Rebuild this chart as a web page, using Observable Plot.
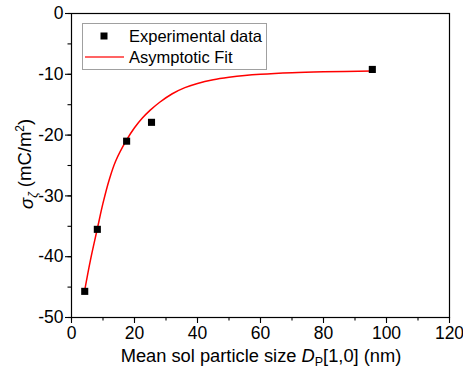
<!DOCTYPE html>
<html><head><meta charset="utf-8">
<script src="https://cdn.jsdelivr.net/npm/d3@7"></script>
<script src="https://cdn.jsdelivr.net/npm/@observablehq/plot@0.6"></script>
<style>
body{margin:0;background:#fff}
#chart{width:463px;height:377px}
</style>
</head><body><div id="chart"></div>
<script>
// Experimental data
const expSize  = [4.2, 8.2, 17.5, 25.4, 95.5];
const expSigma = [-45.7, -35.5, -21.0, -17.9, -9.2];
// Asymptotic fit curve
const fitSize  = [4.2, 6, 8.2, 10, 12, 14, 17.5, 20, 22.5, 25, 28, 32, 36, 40, 45, 50, 55, 60, 70, 80, 95.5];
const fitSigma = [-45.5, -40.6, -35.4, -31.2, -27.3, -24.3, -20.8, -18.8, -17.2, -15.9, -14.6, -13.2, -12.2, -11.5, -10.9, -10.5, -10.2, -10.0, -9.75, -9.6, -9.45];
// Ticks
const xTicks = [0, 20, 40, 60, 80, 100, 120];
const xMinor = [0, 10, 20, 30, 40, 50, 60, 70, 80, 90, 100, 110, 120];
const yTicks = [0, -10, -20, -30, -40, -50];
const yMinor = [0, -5, -10, -15, -20, -25, -30, -35, -40, -45, -50];
const legendLabels = ["Experimental data", "Asymptotic Fit"];

const expData = expSize.map((s, i) => ({size: s, sigma: expSigma[i]}));
const fitData = fitSize.map((s, i) => ({size: s, sigma: fitSigma[i]}));

const font = "'Liberation Sans', Arial, sans-serif";
const svg = Plot.plot({
  width: 463, height: 377,
  marginLeft: 71, marginRight: 14, marginTop: 13, marginBottom: 60,
  x: {domain: [0, 120]},
  y: {domain: [-50, 0]},
  style: {fontFamily: font, fontSize: "17.5px", color: "#000", background: "#fff", overflow: "visible"},
  marks: [
    Plot.axisX({ticks: xMinor, tickSize: 3.5, tickFormat: () => "", label: null, strokeWidth: 1.1}),
    Plot.axisX({ticks: xTicks, tickSize: 6, tickPadding: 3, tickFormat: d => String(d), label: null, strokeWidth: 1.1}),
    Plot.axisY({ticks: yMinor, tickSize: 3.5, tickFormat: () => "", label: null, strokeWidth: 1.1}),
    Plot.axisY({ticks: yTicks, tickSize: 6, tickPadding: 2, tickFormat: d => String(d), label: null, strokeWidth: 1.1}),
    Plot.frame({stroke: "#000", strokeWidth: 1.2}),
    Plot.line(fitData, {x: "size", y: "sigma", stroke: "#ff0000", strokeWidth: 1.5, curve: "catmull-rom"}),
    Plot.dot(expData, {x: "size", y: "sigma", symbol: "square", r: 4, fill: "#000", stroke: "none"})
  ]
});
document.getElementById("chart").appendChild(svg);

const s = d3.select(svg);
// X axis label
const xl = s.append("text").attr("x", 261).attr("y", 362).attr("text-anchor", "middle")
  .attr("font-family", font).attr("font-size", 18.3).attr("fill", "#000");
xl.append("tspan").text("Mean sol particle size ");
xl.append("tspan").attr("font-style", "italic").text("D");
xl.append("tspan").attr("font-size", 12.5).attr("dy", 4).text("P");
xl.append("tspan").attr("dy", -4).text("[1,0] (nm)");

// Y axis label
const yl = s.append("text").attr("transform", "translate(31,209) rotate(-90)").attr("text-anchor", "start")
  .attr("font-family", font).attr("font-size", 18.5).attr("fill", "#000");
yl.append("tspan").attr("font-style", "italic").attr("dy", 2).text("σ");
yl.append("tspan").attr("font-style", "italic").attr("font-size", 12).attr("dy", 4).text("ζ");
yl.append("tspan").attr("dy", -6).text(" (mC/m");
yl.append("tspan").attr("font-size", 12).attr("dy", -7).text("2");
yl.append("tspan").attr("dy", 7).text(")");

// Legend
const lg = s.append("g").attr("text-anchor", "start");
lg.append("rect").attr("x", 82.5).attr("y", 23.5).attr("width", 184).attr("height", 46)
  .attr("fill", "#fff").attr("stroke", "#a0a0a0").attr("stroke-width", 1);
lg.append("rect").attr("x", 100.5).attr("y", 32.5).attr("width", 7).attr("height", 7).attr("fill", "#000");
lg.append("line").attr("x1", 85).attr("x2", 124).attr("y1", 57).attr("y2", 57)
  .attr("stroke", "#ff3030").attr("stroke-width", 1.5);
legendLabels.forEach((t, i) => {
  lg.append("text").attr("x", 129).attr("y", 42 + i * 21).attr("font-family", font)
    .attr("text-anchor", "start").attr("font-size", 16.5).attr("fill", "#000").text(t);
});
</script>
</body></html>
